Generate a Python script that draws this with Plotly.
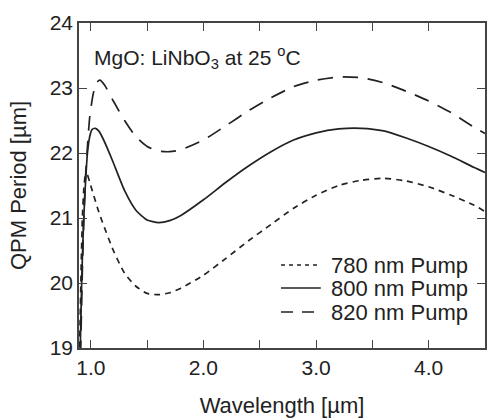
import plotly.graph_objects as go

# Wavelength [um] and QPM period [um] for each pump
wl_780 = [0.895, 0.905, 0.915, 0.925, 0.94, 0.955, 0.97, 0.99, 1.02, 1.06, 1.1, 1.2, 1.3, 1.4, 1.5, 1.6, 1.7, 1.8, 2.0, 2.2, 2.4, 2.6, 2.8, 3.0, 3.2, 3.4, 3.6, 3.8, 4.0, 4.2, 4.4, 4.5]
qpm_780 = [18.5, 19.4, 20.3, 21.0, 21.5, 21.68, 21.66, 21.55, 21.38, 21.15, 20.95, 20.5, 20.15, 19.95, 19.84, 19.82, 19.85, 19.92, 20.12, 20.38, 20.65, 20.9, 21.15, 21.35, 21.5, 21.58, 21.61, 21.57, 21.48, 21.35, 21.2, 21.1]

wl_800 = [0.9, 0.91, 0.92, 0.935, 0.95, 0.97, 0.99, 1.01, 1.04, 1.07, 1.1, 1.15, 1.2, 1.3, 1.4, 1.5, 1.6, 1.7, 1.8, 2.0, 2.2, 2.4, 2.6, 2.8, 3.0, 3.2, 3.4, 3.6, 3.8, 4.0, 4.2, 4.4, 4.5]
qpm_800 = [18.5, 19.3, 20.1, 20.9, 21.45, 22.0, 22.25, 22.36, 22.38, 22.34, 22.25, 22.06, 21.85, 21.42, 21.12, 20.97, 20.93, 20.96, 21.04, 21.28, 21.55, 21.8, 22.02, 22.2, 22.31, 22.37, 22.38, 22.34, 22.23, 22.1, 21.95, 21.78, 21.7]

wl_820 = [0.905, 0.915, 0.925, 0.94, 0.955, 0.97, 0.99, 1.02, 1.05, 1.08, 1.12, 1.2, 1.3, 1.4, 1.5, 1.6, 1.7, 1.8, 2.0, 2.2, 2.4, 2.6, 2.8, 3.0, 3.2, 3.4, 3.6, 3.8, 4.0, 4.2, 4.4, 4.5]
qpm_820 = [18.5, 19.4, 20.2, 21.1, 21.7, 22.1, 22.55, 22.9, 23.08, 23.12, 23.05, 22.8, 22.5, 22.25, 22.1, 22.03, 22.02, 22.05, 22.2, 22.42, 22.65, 22.85, 23.02, 23.12, 23.17, 23.16, 23.08, 22.95, 22.8, 22.62, 22.4, 22.3]

series_names = ["780 nm Pump", "800 nm Pump", "820 nm Pump"]

x_ticks = [1.0, 2.0, 3.0, 4.0]
x_tick_labels = ["1.0", "2.0", "3.0", "4.0"]
y_ticks = [19, 20, 21, 22, 23, 24]

FAM = "Liberation Sans, Arial, sans-serif"
INK = "#222"
dashes = ["6px,5px", "solid", "15px,10px"]

fig = go.Figure()
for wl, q, name, dash in zip([wl_780, wl_800, wl_820], [qpm_780, qpm_800, qpm_820], series_names, dashes):
    fig.add_trace(go.Scatter(x=wl, y=q, mode="lines", name=name, showlegend=False,
                             line=dict(color=INK, width=1.7, dash=dash, shape="spline", smoothing=0.6)))

# Legend drawn by hand (compact row spacing like the reference)
PLOT_L, PLOT_W, PLOT_B, PLOT_H = 79, 408, 348, 325
def px_to_paper_x(px):
    return (px - PLOT_L) / PLOT_W
def px_to_paper_y(py):
    return (PLOT_B - py) / PLOT_H

leg_rows = [265, 288, 312]
leg_dashes = ["4px,4px", "solid", "12px,9px"]
for row, name, dash in zip(leg_rows, series_names, leg_dashes):
    fig.add_shape(type="line", xref="paper", yref="paper",
                  x0=px_to_paper_x(282), x1=px_to_paper_x(322),
                  y0=px_to_paper_y(row), y1=px_to_paper_y(row),
                  line=dict(color=INK, width=1.7, dash=dash))
    fig.add_annotation(x=px_to_paper_x(330), y=px_to_paper_y(row), xref="paper", yref="paper",
                       xanchor="left", yanchor="middle", text=name, showarrow=False,
                       font=dict(family=FAM, size=22, color=INK))

tick_font = dict(family=FAM, size=21, color=INK)
title_font = dict(family=FAM, size=22, color=INK)
axis_common = dict(showline=True, linecolor="#444", linewidth=1.5, mirror="ticks",
                   ticks="inside", ticklen=8, tickwidth=1.2, tickcolor="#444",
                   showgrid=False, zeroline=False, tickfont=tick_font)

fig.update_layout(
    width=488, height=419,
    margin=dict(l=79, r=1, t=23, b=71),
    paper_bgcolor="white", plot_bgcolor="white",
    font=dict(family=FAM, color=INK),
    showlegend=False,
    xaxis=dict(range=[0.895, 4.5], tickvals=x_ticks, ticktext=x_tick_labels,
               minor=dict(tickvals=[1.5, 2.5, 3.5], ticks="inside", ticklen=8, tickcolor="#444", tickwidth=1.2),
               title=dict(text="Wavelength [µm]", font=title_font, standoff=20),
               **axis_common),
    yaxis=dict(range=[19, 24], tickvals=y_ticks,
               title=dict(text="QPM Period [µm]", font=title_font, standoff=17),
               **axis_common),
)

fig.add_annotation(x=px_to_paper_x(92), y=px_to_paper_y(57), xref="paper", yref="paper",
                   xanchor="left", yanchor="middle",
                   text="MgO: LiNbO<sub>3</sub> at 25 <sup>o</sup>C", showarrow=False,
                   font=dict(family=FAM, size=21, color=INK))

fig.write_html("out.html")
